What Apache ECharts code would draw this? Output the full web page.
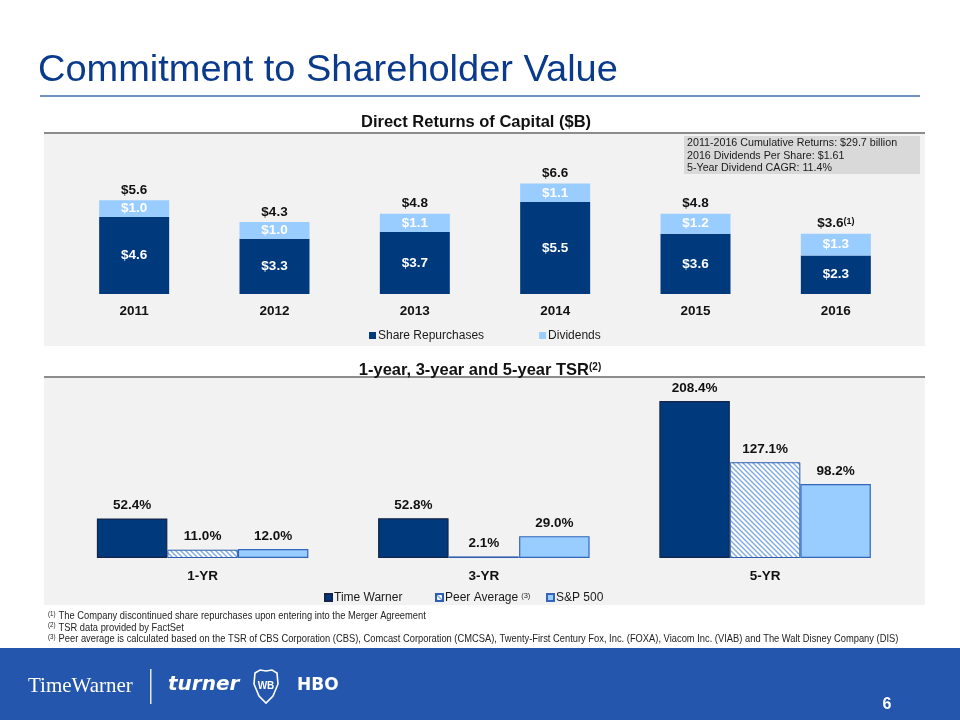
<!DOCTYPE html>
<html>
<head>
<meta charset="utf-8">
<script src="https://cdn.jsdelivr.net/npm/echarts@6/dist/echarts.min.js"></script>
<style>
html,body{margin:0;padding:0;background:#fff;}
#c{width:960px;height:720px;}
</style>
</head>
<body>
<div id="c"></div>
<script>
// ---- data ----
var years = ['2011', '2012', '2013', '2014', '2015', '2016'];
var repurchases = [4.6, 3.3, 3.7, 5.5, 3.6, 2.3];
var dividends = [1.0, 1.0, 1.1, 1.1, 1.2, 1.3];
var totals = [5.6, 4.3, 4.8, 6.6, 4.8, 3.6];
var totalNotes = ['', '', '', '', '', '(1)'];

var periods = ['1-YR', '3-YR', '5-YR'];
var timeWarner = [52.4, 52.8, 208.4];
var peerAverage = [11.0, 2.1, 127.1];
var sp500 = [12.0, 29.0, 98.2];

var infoLines = [
  '2011-2016 Cumulative Returns: $29.7 billion',
  '2016 Dividends Per Share: $1.61',
  '5-Year Dividend CAGR: 11.4%'
];
var footnotes = [
  ['(1)', 'The Company discontinued share repurchases upon entering into the Merger Agreement'],
  ['(2)', 'TSR data provided by FactSet'],
  ['(3)', 'Peer average is calculated based on the TSR of CBS Corporation (CBS), Comcast Corporation (CMCSA), Twenty-First Century Fox, Inc. (FOXA), Viacom Inc. (VIAB) and The Walt Disney Company (DIS)']
];

// ---- styles ----
var FONT = '"Liberation Sans", Arial, Helvetica, sans-serif';
var DARK = '#003a7d';
var LIGHT = '#99ccff';

function makePattern() {
  var c = document.createElement('canvas');
  c.width = 5; c.height = 5;
  var g = c.getContext('2d');
  g.fillStyle = '#ffffff';
  g.fillRect(0, 0, 5, 5);
  g.strokeStyle = '#7eaae3';
  g.lineWidth = 1.4;
  g.beginPath();
  g.moveTo(-1, -1); g.lineTo(6, 6);
  g.moveTo(-4, 1); g.lineTo(4, 9);
  g.moveTo(1, -4); g.lineTo(9, 4);
  g.stroke();
  return c;
}
var peerPattern = { image: makePattern(), repeat: 'repeat' };

var chart = echarts.init(document.getElementById('c'), null, { renderer: 'canvas' });

var topBase = 294, topScale = 16.73, topMax = 7;
var botBase = 558, botScale = 0.7534, botMax = 220;

var graphics = [
  // title
  { type: 'text', x: 38, y: 71, scaleX: 1.055,
    style: { text: 'Commitment to Shareholder Value', font: '36px ' + FONT, fill: '#0a3a8c', textVerticalAlign: 'middle' } },
  { type: 'rect', shape: { x: 40, y: 95, width: 880, height: 2 }, style: { fill: '#6f8fc0' } },
  // top panel
  { type: 'rect', shape: { x: 44, y: 134, width: 881, height: 212 }, style: { fill: '#f2f2f2' }, z: -10 },
  { type: 'rect', shape: { x: 44, y: 132, width: 881, height: 2 }, style: { fill: '#8c8c8c' } },
  { type: 'rect', shape: { x: 684, y: 136, width: 236, height: 38 }, style: { fill: '#d9d9d9' }, z: -5 },
  // bottom panel
  { type: 'rect', shape: { x: 44, y: 378, width: 881, height: 227 }, style: { fill: '#f2f2f2' }, z: -10 },
  { type: 'rect', shape: { x: 44, y: 376, width: 881, height: 2 }, style: { fill: '#8c8c8c' } },
  // footer band
  { type: 'rect', shape: { x: 0, y: 648, width: 960, height: 72 }, style: { fill: '#2356ac' }, z: -10 },
  { type: 'text', x: 28, y: 686, style: { text: 'TimeWarner', font: '21px "Liberation Serif", "Times New Roman", serif', fill: '#ffffff', textVerticalAlign: 'middle' } },
  { type: 'rect', shape: { x: 150, y: 669, width: 1.5, height: 35 }, style: { fill: '#dfe7f5' } },
  { type: 'text', x: 168, y: 685, style: { text: 'turner', font: 'italic bold 20px "DejaVu Sans", ' + FONT, fill: '#ffffff', textVerticalAlign: 'middle' } },
  { type: 'polygon', shape: { points: [[255, 673], [260, 670], [266, 671], [272, 670], [277, 673], [278, 684], [273, 696], [266, 703], [259, 696], [254, 684]] },
    style: { fill: 'none', stroke: '#ffffff', lineWidth: 1.6 } },
  { type: 'text', x: 266, y: 686, style: { text: 'WB', font: 'bold 10px ' + FONT, fill: '#ffffff', textAlign: 'center', textVerticalAlign: 'middle' } },
  { type: 'text', x: 297, y: 686, style: { text: 'HBO', font: 'bold 17px "DejaVu Sans", ' + FONT, fill: '#ffffff', textVerticalAlign: 'middle' } },
  { type: 'text', x: 887, y: 705, style: { text: '6', font: 'bold 16px ' + FONT, fill: '#ffffff', textAlign: 'center', textVerticalAlign: 'middle' } }
];

infoLines.forEach(function (t, i) {
  graphics.push({ type: 'text', x: 687, y: 143 + i * 12.7, style: { text: t, font: '10.7px ' + FONT, fill: '#1a1a1a', textVerticalAlign: 'middle' } });
});
footnotes.forEach(function (f, i) {
  graphics.push({
    type: 'text', x: 48, y: 616.5 + i * 11.5, scaleX: 0.89,
    style: {
      text: '{s|' + f[0] + '} {n|' + f[1] + '}',
      textVerticalAlign: 'middle',
      rich: {
        s: { font: '7px ' + FONT, fill: '#222', verticalAlign: 'top' },
        n: { font: '10.5px ' + FONT, fill: '#222' }
      }
    }
  });
});

var legendText = { fontFamily: FONT, fontSize: 12, color: '#1a1a1a', padding: [0, 0, 0, -3] };
var legendBase = { padding: 0, itemWidth: 7, itemHeight: 7, icon: 'rect', textStyle: legendText };

var option = {
  animation: false,
  backgroundColor: '#ffffff',
  title: [
    { text: 'Direct Returns of Capital ($B)', left: 356, top: 109,
      textStyle: { fontFamily: FONT, fontSize: 16.5, fontWeight: 'bold', color: '#111' } },
    { text: '{m|1-year, 3-year and 5-year TSR}{s|(2)}', left: 'center', top: 357,
      textStyle: { rich: {
        m: { fontFamily: FONT, fontSize: 16.5, fontWeight: 'bold', color: '#111' },
        s: { fontFamily: FONT, fontSize: 10, fontWeight: 'bold', color: '#111', verticalAlign: 'top' }
      } } }
  ],
  graphic: graphics,
  legend: [
    Object.assign({}, legendBase, { data: ['Share Repurchases', 'Dividends'], left: 369, top: 329.5, itemGap: 55 }),
    Object.assign({}, legendBase, { data: ['Time Warner'], left: 324, top: 591.5 }),
    Object.assign({}, legendBase, { data: ['Peer Average'], left: 435, top: 591.5,
      formatter: function (n) { return '{t|' + n + '}{s|(3)}'; },
      textStyle: { fontFamily: FONT, fontSize: 12, color: '#1a1a1a', padding: [0, 0, 0, -3], rich: {
        t: { fontFamily: FONT, fontSize: 12, color: '#1a1a1a' },
        s: { fontFamily: FONT, fontSize: 7.5, color: '#1a1a1a', verticalAlign: 'top', padding: [0, 0, 0, 3] } } } }),
    Object.assign({}, legendBase, { data: ['S&P 500'], left: 546, top: 591.5 })
  ],
  grid: [
    { left: 64, width: 842, top: topBase - topScale * topMax, height: topScale * topMax },
    { left: 62, width: 843.7, top: botBase - botScale * botMax, height: botScale * botMax }
  ],
  xAxis: [
    { type: 'category', gridIndex: 0, data: years,
      axisLine: { show: false }, axisTick: { show: false },
      axisLabel: { margin: 10, fontFamily: FONT, fontSize: 13.5, fontWeight: 'bold', color: '#111' } },
    { type: 'category', gridIndex: 1, data: periods,
      axisLine: { show: false }, axisTick: { show: false },
      axisLabel: { margin: 11, fontFamily: FONT, fontSize: 13.5, fontWeight: 'bold', color: '#111' } }
  ],
  yAxis: [
    { type: 'value', gridIndex: 0, min: 0, max: topMax, show: false, splitLine: { show: false } },
    { type: 'value', gridIndex: 1, min: 0, max: botMax, show: false, splitLine: { show: false } }
  ],
  series: [
    { name: 'Share Repurchases', type: 'bar', xAxisIndex: 0, yAxisIndex: 0, stack: 'cap', barWidth: 70, barGap: '-100%',
      data: repurchases, itemStyle: { color: DARK },
      label: { show: true, position: 'inside', formatter: function (p) { return '$' + p.value.toFixed(1); },
        fontFamily: FONT, fontSize: 13.5, fontWeight: 'bold', color: '#ffffff' } },
    { name: 'Dividends', type: 'bar', xAxisIndex: 0, yAxisIndex: 0, stack: 'cap', barWidth: 70,
      data: dividends, itemStyle: { color: LIGHT },
      label: { show: true, position: 'inside', formatter: function (p) { return '$' + p.value.toFixed(1); },
        fontFamily: FONT, fontSize: 13.5, fontWeight: 'bold', color: '#ffffff' } },
    { name: 'Total', type: 'bar', xAxisIndex: 0, yAxisIndex: 0, barWidth: 70, barGap: '-100%', z: 1,
      data: totals, itemStyle: { color: 'rgba(0,0,0,0)' }, silent: true,
      label: { show: true, position: 'top', distance: 3,
        formatter: function (p) { var n = totalNotes[p.dataIndex]; return '{v|$' + p.value.toFixed(1) + '}' + (n ? '{s|' + n + '}' : ''); },
        rich: {
          v: { fontFamily: FONT, fontSize: 13.5, fontWeight: 'bold', color: '#111' },
          s: { fontFamily: FONT, fontSize: 9, fontWeight: 'bold', color: '#111', verticalAlign: 'top' }
        } } },

    { name: 'Time Warner', type: 'bar', xAxisIndex: 1, yAxisIndex: 1, barWidth: 70.5, barGap: '0%',
      data: timeWarner, itemStyle: { color: DARK, borderColor: '#14244a', borderWidth: 1.2 },
      label: { show: true, position: 'top', distance: 6, formatter: function (p) { return p.value.toFixed(1) + '%'; },
        fontFamily: FONT, fontSize: 13.5, fontWeight: 'bold', color: '#111' } },
    { name: 'Peer Average', type: 'bar', xAxisIndex: 1, yAxisIndex: 1, barWidth: 70.5, barGap: '0%',
      data: peerAverage, itemStyle: { color: peerPattern, borderColor: '#2f5fb0', borderWidth: 1 },
      label: { show: true, position: 'top', distance: 6, formatter: function (p) { return p.value.toFixed(1) + '%'; },
        fontFamily: FONT, fontSize: 13.5, fontWeight: 'bold', color: '#111' } },
    { name: 'S&P 500', type: 'bar', xAxisIndex: 1, yAxisIndex: 1, barWidth: 70.5, barGap: '0%',
      data: sp500, itemStyle: { color: LIGHT, borderColor: '#3366bb', borderWidth: 1.2 },
      label: { show: true, position: 'top', distance: 6, formatter: function (p) { return p.value.toFixed(1) + '%'; },
        fontFamily: FONT, fontSize: 13.5, fontWeight: 'bold', color: '#111' } }
  ]
};
chart.setOption(option);
</script>
</body>
</html>
